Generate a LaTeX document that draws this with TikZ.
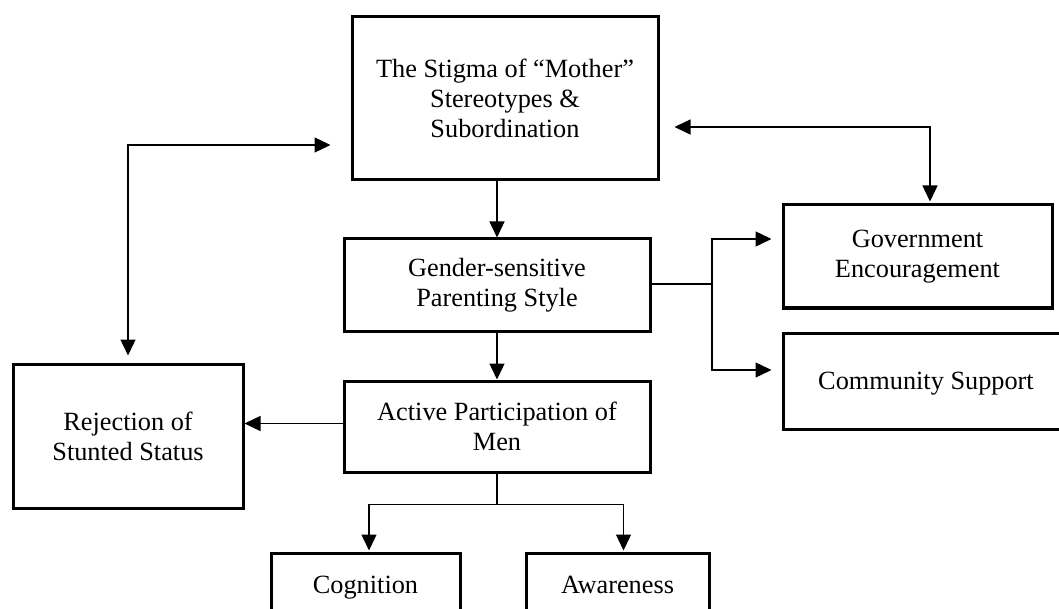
\documentclass[tikz,border=0pt]{standalone}
\usepackage{fontspec}
\setmainfont{Liberation Serif}
\usetikzlibrary{arrows.meta,calc}
\begin{document}
\begin{tikzpicture}[x=1pt,y=-1pt,
  box/.style={draw, line width=3pt, align=center, inner sep=0pt, font=\fontsize{26.3}{30}\selectfont},
  conn/.style={line width=1.4pt, -{Triangle[length=16pt,width=15pt]}},
  both/.style={line width=1.4pt, {Triangle[length=16pt,width=15pt]}-{Triangle[length=16pt,width=15pt]}},
  plain/.style={line width=1.4pt}]
\useasboundingbox (0,0) rectangle (1059,609);
\node[box, minimum width=306pt, minimum height=163pt] (stigma) at (505,98.5) {The Stigma of “Mother”\\Stereotypes \&\\Subordination};
\node[box, minimum width=306pt, minimum height=92pt] (gender) at (497,285) {Gender-sensitive\\Parenting Style};
\node[box, minimum width=306pt, minimum height=91pt] (active) at (497,426.5) {Active Participation of\\Men};
\node[box, minimum width=230pt, minimum height=144pt] (reject) at (128,436) {Rejection of\\Stunted Status};
\node[box, minimum width=269pt, minimum height=103pt] (gov) at (917.5,256.5) {Government\\Encouragement};
\node[box, minimum width=286pt, minimum height=96pt, text depth=0pt] (comm) at (926,381) {Community Support};
\node[box, minimum width=189pt, minimum height=64pt, text depth=0pt] (cog) at (365.5,585) {Cognition};
\node[box, minimum width=183pt, minimum height=64pt, text depth=0pt] (aware) at (617.5,585) {Awareness};
\coordinate (j) at (712,284);
\coordinate (k) at ($(active.south)+(0,31)$);
% connectors
\draw[conn] (stigma.south -| gender.north) -- (gender.north);
\draw[conn] (gender.south) -- (active.north);
\draw[conn] ($(active.west)+(0,-3)$) -- ($(active.west -| reject.east)+(0,-3)$);
\draw[both] ($(reject.north)+(0,-7)$) |- ($(stigma.west)+(-20,46.5)$);
\draw[both] ($(stigma.east)+(15,28.5)$) -| ($(gov.north)+(12.5,-2)$);
\draw[line width=2pt] (gender.east |- j) -- (j);
\draw[conn] (j) |- ($(gov.west)+(-10,-17.5)$);
\draw[conn] (j) |- ($(comm.west)+(-10,-11)$);
\draw[plain] (active.south) -- (k);
\draw[conn] (k) -| ($(cog.north)+(3.5,-1)$);
\draw[conn] (k) -| ($(aware.north)+(6,-1)$);
\end{tikzpicture}
\end{document}
